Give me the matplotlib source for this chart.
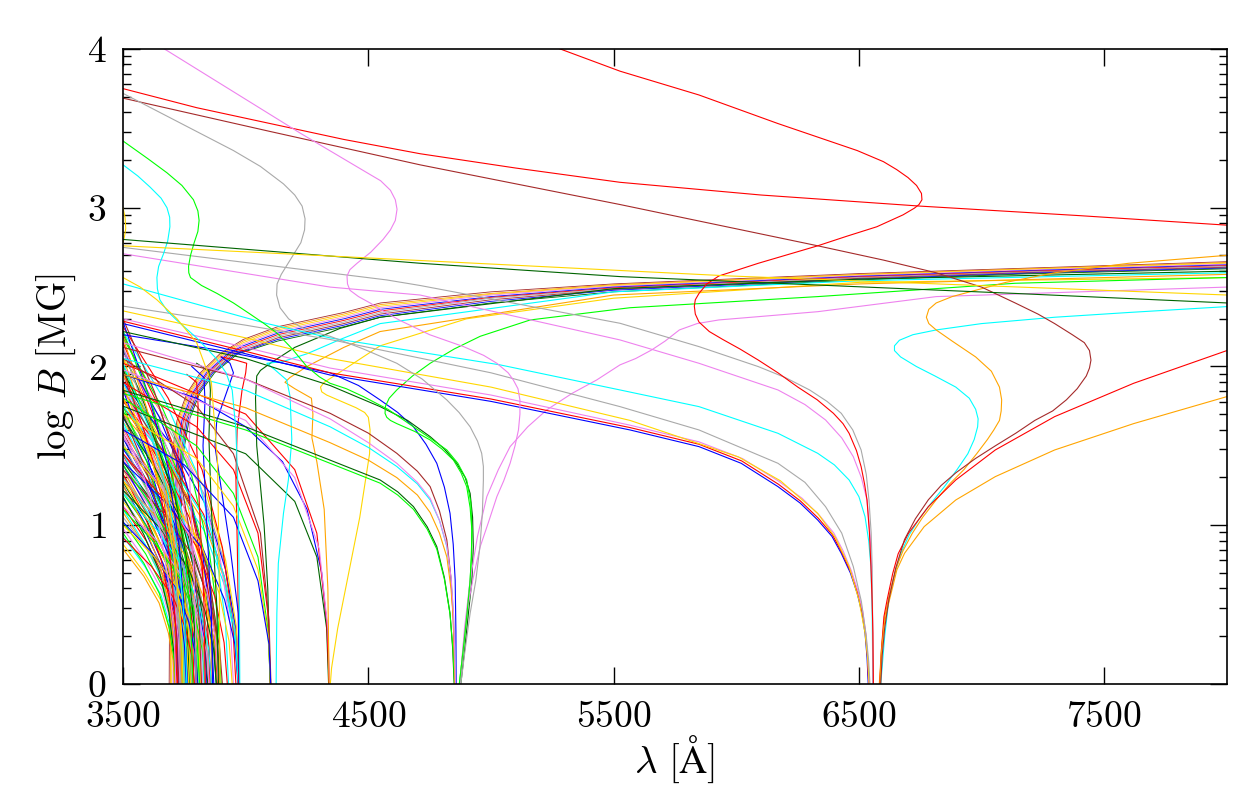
import matplotlib
matplotlib.use('Agg')
import matplotlib.pyplot as plt
from matplotlib.ticker import NullLocator
import numpy as np

plt.rcParams['font.family'] = 'serif'
plt.rcParams['font.serif'] = ['cmr10']
plt.rcParams['mathtext.fontset'] = 'cm'
plt.rcParams['axes.unicode_minus'] = False
plt.rcParams['axes.formatter.use_mathtext'] = True

# ---- data: wavelength [A] and log B [MG] ----

# long lines and S-shaped curves in the upper half
upper_colors = ['red', 'brown', 'red', 'violet', 'darkgray', 'lime', 'cyan',
                'gold', 'darkgreen', 'gold', 'gold']
upper_lam = [
    [3500, 3800, 4100, 4400, 4711, 5100, 5526, 6100, 6750, 7400, 8000],
    [3500, 4100, 4711, 5526, 6332, 6600, 6815, 7000, 7137, 7230, 7298, 7370,
     7419, 7440, 7446, 7440, 7427, 7390, 7346, 7290, 7217, 7140, 7056, 6975,
     6895, 6835, 6783, 6730, 6686, 6650, 6622, 6605, 6595, 6589],
    [5200, 5282, 5526, 5848, 6170, 6493, 6600, 6654, 6700, 6735, 6755, 6757,
     6745, 6726, 6680, 6573, 6450, 6332, 6200, 6090, 5990, 5929, 5880, 5848,
     5833, 5829, 5833, 5848, 5890, 5945, 6015, 6090, 6170, 6251, 6330, 6396,
     6435, 6460, 6490, 6509, 6523, 6533, 6543, 6549, 6554, 6557, 6559],
    [3600, 3679, 4222, 4495, 4550, 4590, 4610, 4617, 4610, 4590, 4560, 4510,
     4454, 4425, 4413, 4415, 4425, 4460, 4507, 4560, 4629, 4750, 4888, 4970,
     5024, 5070, 5091, 5110, 5118, 5118, 5112, 5098, 5078, 5052, 5024, 4990,
     4956, 4925, 4901, 4885, 4874],
    [3500, 3700, 3950, 4060, 4154, 4200, 4230, 4242, 4240, 4225, 4181, 4145,
     4128, 4126, 4140, 4175, 4222, 4280, 4344, 4480, 4616, 4720, 4820, 4870,
     4915, 4945, 4962, 4969, 4969, 4965, 4955, 4938, 4915, 4895, 4877],
    [3500, 3600, 3679, 3740, 3787, 3805, 3810, 3805, 3790, 3775, 3767, 3768,
     3775, 3820, 3883, 3950, 4018, 4075, 4128, 4190, 4249, 4300, 4344, 4410,
     4480, 4580, 4684, 4760, 4820, 4865, 4901, 4918, 4922, 4920, 4915, 4902,
     4888, 4871],
    [3500, 3560, 3610, 3655, 3679, 3690, 3691, 3682, 3665, 3645, 3638, 3640,
     3650, 3680, 3720, 3800, 3880, 3920, 3945, 3960, 3967, 3971, 3974, 3976],
    [3500, 3508, 3511, 3506, 3500],
    [3500, 4711, 5526, 7137, 8000],
    [3500, 4548, 5975, 8000],
    [3500, 3570, 3638, 3720, 3800, 3860, 3885, 3892, 3895],
]
upper_logb = [
    [3.75, 3.63, 3.53, 3.43, 3.34, 3.25, 3.16, 3.08, 3.01, 2.95, 2.89],
    [3.69, 3.48, 3.27, 3.02, 2.76, 2.67, 2.59, 2.50, 2.40, 2.33, 2.27, 2.20,
     2.15, 2.10, 2.04, 1.99, 1.94, 1.86, 1.79, 1.72, 1.66, 1.58, 1.50, 1.42,
     1.33, 1.25, 1.16, 1.04, 0.91, 0.73, 0.53, 0.35, 0.18, 0],
    [4.05, 4.0, 3.86, 3.71, 3.53, 3.36, 3.29, 3.24, 3.19, 3.14, 3.09, 3.05,
     3.02, 2.997, 2.955, 2.88, 2.82, 2.76, 2.70, 2.65, 2.60, 2.57, 2.52, 2.46,
     2.42, 2.38, 2.33, 2.28, 2.22, 2.17, 2.11, 2.04, 1.96, 1.87, 1.79, 1.705,
     1.64, 1.579, 1.47, 1.369, 1.26, 1.159, 0.95, 0.739, 0.52, 0.32, 0],
    [4.06, 3.99, 3.47, 3.22, 3.17, 3.11, 3.05, 2.99, 2.92, 2.86, 2.80, 2.72,
     2.65, 2.61, 2.57, 2.52, 2.48, 2.44, 2.40, 2.35, 2.29, 2.20, 2.125, 2.07,
     2.02, 1.96, 1.915, 1.86, 1.789, 1.70, 1.6, 1.50, 1.39, 1.28, 1.18, 1.02,
     0.865, 0.65, 0.445, 0.22, 0],
    [3.72, 3.56, 3.36, 3.26, 3.15, 3.08, 3.01, 2.93, 2.86, 2.78, 2.67, 2.58,
     2.52, 2.45, 2.37, 2.30, 2.25, 2.215, 2.19, 2.11, 2.02, 1.92, 1.789, 1.71,
     1.62, 1.53, 1.453, 1.37, 1.285, 1.08, 0.865, 0.65, 0.445, 0.22, 0],
    [3.42, 3.31, 3.22, 3.14, 3.05, 2.98, 2.92, 2.85, 2.78, 2.70, 2.63, 2.59,
     2.56, 2.51, 2.46, 2.40, 2.33, 2.27, 2.21, 2.11, 2.0, 1.935, 1.894, 1.86,
     1.81, 1.73, 1.62, 1.54, 1.474, 1.39, 1.285, 1.14, 0.97, 0.80, 0.655, 0.44,
     0.235, 0],
    [3.27, 3.20, 3.13, 3.06, 3.0, 2.94, 2.88, 2.79, 2.71, 2.63, 2.56, 2.49,
     2.42, 2.35, 2.29, 2.18, 2.05, 1.96, 1.85, 1.6, 1.3, 1.0, 0.5, 0],
    [3.0, 2.94, 2.87, 2.82, 2.78],
    [2.80, 2.65, 2.566, 2.46, 2.40],
    [2.76, 2.68, 2.57, 2.45],
    [2.56, 2.50, 2.42, 2.30, 2.15, 1.9, 1.4, 0.7, 0],
]

# curves meeting the axis near H-alpha
halpha_colors = ['blue', 'red', 'violet', 'gold', 'darkgray', 'cyan', 'violet',
                 'darkgray', 'cyan', 'orange', 'red', 'orange']
halpha_lam = [
    [3500, 4000, 4344, 5000, 5567, 5848, 6020, 6170, 6260, 6332, 6390, 6428,
     6465, 6493, 6512, 6525, 6533, 6538],
    [3500, 4000, 4344, 5000, 5567, 5848, 6022, 6172, 6262, 6334, 6392, 6430,
     6467, 6495, 6514, 6527, 6535, 6540],
    [3500, 4000, 4344, 5000, 5567, 5848, 6025, 6175, 6268, 6340, 6398, 6435,
     6470, 6497, 6516, 6528, 6536, 6541],
    [3500, 4000, 4344, 5000, 5567, 6009, 6180, 6332, 6405, 6460, 6500, 6525,
     6536, 6542],
    [3500, 4000, 4344, 5000, 5526, 5848, 6170, 6280, 6364, 6430, 6477, 6510,
     6530, 6540, 6545],
    [3500, 4087, 4344, 5037, 5526, 5848, 6170, 6332, 6400, 6460, 6500, 6525,
     6540, 6549, 6554, 6557],
    [3500, 4344, 4711, 5526, 5848, 6170, 6280, 6364, 6430, 6477, 6510, 6533,
     6545, 6552, 6556, 6557],
    [3500, 4575, 4711, 5526, 5848, 6090, 6200, 6299, 6370, 6428, 6475, 6509,
     6530, 6541, 6550, 6554, 6558],
    [8000, 7600, 7298, 7000, 6815, 6720, 6665, 6645, 6645, 6670, 6734, 6810,
     6895, 6950, 6976, 6986, 6984, 6970, 6944, 6900, 6847, 6800, 6750, 6705,
     6670, 6640, 6622, 6605, 6589],
    [8000, 7600, 7298, 7100, 6976, 6880, 6815, 6785, 6775, 6785, 6815, 6880,
     6976, 7040, 7073, 7082, 7080, 7073, 7050, 7024, 6980, 6928, 6870, 6815,
     6760, 6718, 6680, 6654, 6625, 6605, 6592, 6583],
    [8000, 7620, 7298, 7056, 6895, 6783, 6702, 6660, 6638, 6615, 6602, 6592, 6585],
    [8000, 7620, 7298, 7056, 6895, 6766, 6686, 6655, 6638, 6615, 6602, 6592, 6586],
]
halpha_logb = [
    [2.27, 2.08, 1.946, 1.78, 1.60, 1.495, 1.39, 1.243, 1.14, 1.033, 0.93,
     0.823, 0.70, 0.571, 0.45, 0.319, 0.17, 0],
    [2.285, 2.095, 1.96, 1.795, 1.615, 1.51, 1.405, 1.258, 1.152, 1.045, 0.94,
     0.83, 0.705, 0.575, 0.452, 0.32, 0.17, 0],
    [2.30, 2.12, 1.99, 1.82, 1.63, 1.525, 1.42, 1.275, 1.17, 1.06, 0.95, 0.84,
     0.71, 0.58, 0.455, 0.32, 0.17, 0],
    [2.35, 2.18, 2.05, 1.87, 1.66, 1.43, 1.28, 1.075, 0.92, 0.74, 0.53, 0.32,
     0.16, 0],
    [2.38, 2.26, 2.17, 1.96, 1.747, 1.60, 1.39, 1.27, 1.117, 0.95, 0.74, 0.52,
     0.3, 0.14, 0],
    [2.52, 2.27, 2.18, 2.01, 1.852, 1.747, 1.579, 1.453, 1.38, 1.285, 1.18,
     1.054, 0.90, 0.739, 0.45, 0],
    [2.71, 2.50, 2.45, 2.167, 2.02, 1.852, 1.76, 1.663, 1.55, 1.432, 1.30,
     1.159, 0.95, 0.739, 0.40, 0],
    [2.75, 2.545, 2.51, 2.272, 2.125, 1.999, 1.93, 1.852, 1.78, 1.705, 1.60,
     1.474, 1.32, 1.159, 0.95, 0.74, 0],
    [2.377, 2.34, 2.31, 2.27, 2.23, 2.20, 2.165, 2.13, 2.10, 2.06, 2.00, 1.94,
     1.87, 1.80, 1.73, 1.67, 1.62, 1.54, 1.45, 1.35, 1.24, 1.15, 1.05, 0.94,
     0.82, 0.66, 0.53, 0.30, 0],
    [2.70, 2.65, 2.59, 2.53, 2.48, 2.44, 2.40, 2.36, 2.31, 2.27, 2.23, 2.16,
     2.06, 1.97, 1.87, 1.79, 1.72, 1.66, 1.60, 1.54, 1.45, 1.35, 1.26, 1.16,
     1.05, 0.95, 0.84, 0.74, 0.57, 0.42, 0.22, 0],
    [2.10, 1.894, 1.684, 1.474, 1.285, 1.117, 0.949, 0.82, 0.697, 0.53, 0.424,
     0.22, 0],
    [1.81, 1.64, 1.474, 1.306, 1.159, 0.991, 0.823, 0.72, 0.613, 0.47, 0.361,
     0.2, 0],
]

# curves meeting the axis near H-beta
hbeta_colors = ['blue', 'cyan', 'brown', 'darkgreen', 'lime', 'orange', 'violet',
                'darkgreen', 'lime', 'violet']
hbeta_lam = [
    [3500, 3900, 4344, 4460, 4548, 4620, 4684, 4735, 4779, 4810, 4833, 4846,
     4854, 4857, 4858],
    [3500, 4000, 4344, 4500, 4616, 4700, 4752, 4790, 4820, 4837, 4847, 4852, 4854],
    [3500, 4000, 4344, 4500, 4616, 4700, 4752, 4790, 4820, 4836, 4845, 4850, 4852],
    [3500, 4000, 4344, 4548, 4620, 4684, 4740, 4779, 4810, 4833, 4844, 4850],
    [3500, 4000, 4344, 4548, 4620, 4684, 4740, 4779, 4810, 4833, 4845, 4851],
    [3500, 4000, 4344, 4500, 4616, 4700, 4752, 4790, 4820, 4837, 4847, 4853],
    [3500, 4000, 4344, 4500, 4616, 4700, 4752, 4790, 4820, 4838, 4847, 4852, 4855],
    [3500, 4000, 4344, 4548, 4660, 4752, 4810, 4860, 4895, 4915, 4925, 4928,
     4922, 4908, 4893, 4877],
    [8000, 7137, 6332, 5567, 5160, 4956, 4850, 4752, 4680, 4616, 4585, 4570,
     4568, 4575, 4590, 4616, 4690, 4752, 4800, 4847, 4878, 4901, 4915, 4922,
     4920, 4915, 4902, 4888, 4871],
    [8000, 7400, 6815, 6332, 6100, 5929, 5840, 5768, 5710, 5655, 5590, 5526,
     5431, 5330, 5227, 5150, 5078, 5030, 4983, 4945, 4915, 4892, 4874],
]
hbeta_logb = [
    [2.20, 2.10, 1.96, 1.88, 1.789, 1.71, 1.62, 1.51, 1.39, 1.24, 1.075, 0.88,
     0.655, 0.33, 0],
    [2.05, 1.85, 1.62, 1.49, 1.37, 1.26, 1.159, 1.03, 0.865, 0.66, 0.445, 0.22, 0],
    [2.12, 1.92, 1.705, 1.58, 1.453, 1.34, 1.243, 1.09, 0.907, 0.68, 0.445, 0.22, 0],
    [1.85, 1.62, 1.41, 1.285, 1.21, 1.117, 0.99, 0.865, 0.67, 0.445, 0.22, 0],
    [1.83, 1.60, 1.39, 1.265, 1.19, 1.10, 0.975, 0.85, 0.66, 0.44, 0.22, 0],
    [1.95, 1.74, 1.52, 1.41, 1.30, 1.19, 1.08, 0.95, 0.80, 0.60, 0.40, 0],
    [2.15, 1.92, 1.67, 1.52, 1.39, 1.27, 1.17, 1.03, 0.87, 0.66, 0.45, 0.22, 0],
    [2.22, 2.05, 1.88, 1.747, 1.66, 1.558, 1.48, 1.39, 1.30, 1.2, 1.05, 0.865,
     0.65, 0.445, 0.22, 0],
    [2.56, 2.524, 2.44, 2.37, 2.293, 2.19, 2.11, 2.02, 1.94, 1.852, 1.80, 1.75,
     1.705, 1.68, 1.66, 1.64, 1.59, 1.537, 1.48, 1.41, 1.33, 1.243, 1.11, 0.97,
     0.80, 0.655, 0.44, 0.235, 0],
    [2.50, 2.47, 2.44, 2.345, 2.315, 2.293, 2.27, 2.23, 2.16, 2.104, 2.05, 2.01,
     1.915, 1.83, 1.726, 1.62, 1.495, 1.35, 1.18, 0.93, 0.655, 0.35, 0],
]

# curves meeting the axis near H-gamma and H-delta
hgd_colors = ['blue', 'darkgreen', 'red', 'violet', 'gold', 'orange',
              'darkgreen', 'cyan', 'red', 'lime', 'gold', 'brown', 'blue']
hgd_lam = [
    [3500, 3800, 4000, 4150, 4250, 4310, 4335, 4340],
    [3500, 4000, 4200, 4290, 4330, 4338],
    [3500, 4000, 4200, 4290, 4330, 4340],
    [3500, 4000, 4200, 4300, 4335, 4342],
    [8000, 6505, 5500, 4900, 4548, 4400, 4320, 4305, 4310, 4330, 4390, 4450,
     4485, 4500, 4507, 4505, 4490, 4465, 4420, 4375, 4350, 4345],
    [8000, 6505, 5500, 4548, 4400, 4250, 4180, 4160, 4200, 4268, 4274, 4270,
     4290, 4320, 4335, 4340],
    [8000, 6505, 5500, 4548, 4385, 4200, 4100, 4060, 4045, 4040, 4045, 4060,
     4075, 4090, 4095, 4100],
    [8000, 6505, 5500, 4548, 4385, 4250, 4150, 4086, 4120, 4167, 4181, 4188,
     4174, 4154, 4133, 4127, 4124],
    [3500, 3800, 3950, 4050, 4090, 4100],
    [3500, 3800, 3950, 4050, 4090, 4101],
    [3500, 3800, 3950, 4050, 4092, 4102],
    [3500, 3800, 3950, 4060, 4095, 4103],
    [3500, 3750, 3950, 4050, 4095, 4102],
]
hgd_logb = [
    [1.95, 1.80, 1.62, 1.40, 1.10, 0.70, 0.30, 0],
    [1.75, 1.45, 1.15, 0.80, 0.35, 0],
    [2.02, 1.70, 1.35, 0.95, 0.40, 0],
    [1.98, 1.66, 1.30, 0.85, 0.35, 0],
    [2.56, 2.53, 2.43, 2.30, 2.13, 1.98, 1.90, 1.87, 1.84, 1.82, 1.78, 1.74,
     1.71, 1.68, 1.60, 1.45, 1.30, 1.05, 0.7, 0.35, 0.1, 0],
    [2.58, 2.52, 2.45, 2.22, 2.12, 2.00, 1.93, 1.90, 1.86, 1.80, 1.70, 1.55,
     1.40, 1.10, 0.60, 0],
    [2.60, 2.55, 2.49, 2.31, 2.24, 2.12, 2.02, 1.975, 1.94, 1.80, 1.5, 1.25,
     1.0, 0.6, 0.3, 0],
    [2.59, 2.54, 2.47, 2.27, 2.17, 2.08, 2.03, 2.02, 1.978, 1.915, 1.81, 1.54,
     1.285, 1.075, 0.76, 0.445, 0],
    [1.9, 1.62, 1.35, 0.95, 0.45, 0],
    [1.8, 1.5, 1.2, 0.8, 0.35, 0],
    [1.7, 1.42, 1.12, 0.72, 0.3, 0],
    [2.05, 1.75, 1.45, 0.95, 0.4, 0],
    [1.6, 1.38, 1.05, 0.65, 0.25, 0],
]

# kinked curves leaving the bundle
kink_colors = ['red', 'blue', 'darkgreen', 'red', 'violet', 'blue']
kink_lam = [
    [3900, 3960, 4004, 4000, 3985, 3965, 3960, 3966, 3970, 3971],
    [3900, 3936, 3950, 3916, 3882, 3875, 3895, 3936, 3970, 3974],
    [3800, 3850, 3856, 3850, 3860, 3882, 3889],
    [3760, 3800, 3806, 3800, 3812, 3830, 3835],
    [3740, 3770, 3772, 3768, 3780, 3795, 3798],
    [3780, 3830, 3834, 3826, 3840, 3860, 3865],
]
kink_logb = [
    [2.06, 2.04, 2.02, 1.96, 1.85, 1.6, 1.3, 0.85, 0.4, 0],
    [2.06, 2.02, 1.96, 1.81, 1.66, 1.495, 1.285, 0.865, 0.445, 0],
    [2.02, 1.97, 1.85, 1.55, 1.1, 0.5, 0],
    [1.95, 1.90, 1.75, 1.5, 1.1, 0.5, 0],
    [1.85, 1.80, 1.65, 1.4, 1.0, 0.45, 0],
    [2.0, 1.93, 1.78, 1.5, 1.05, 0.45, 0],
]

# dense tangle of higher series members near the Balmer limit
tangle_colors = ['gold', 'cyan', 'violet', 'lime', 'orange', 'red', 'blue',
                 'darkgray', 'darkgreen', 'brown', 'gold', 'red', 'lime', 'cyan',
                 'blue', 'orange', 'violet', 'darkgreen', 'red', 'darkgray',
                 'brown', 'blue', 'gold', 'lime', 'cyan', 'red', 'darkgreen',
                 'orange', 'violet', 'blue', 'brown', 'gold', 'red', 'lime',
                 'darkgreen', 'darkgray', 'red', 'orange', 'blue', 'cyan',
                 'brown', 'violet', 'lime', 'darkgray', 'gold',
                 'blue', 'red', 'lime', 'orange', 'cyan', 'violet', 'darkgreen',
                 'gold', 'brown', 'darkgray', 'red', 'blue', 'lime', 'orange',
                 'violet', 'cyan', 'darkgreen', 'red', 'gold', 'blue', 'brown',
                 'lime', 'darkgray', 'orange', 'red', 'violet', 'cyan', 'blue',
                 'gold', 'darkgreen', 'lime', 'orange', 'red', 'violet', 'cyan',
                 'red', 'blue', 'lime', 'gold', 'cyan', 'violet', 'orange',
                 'darkgreen', 'brown', 'red', 'blue', 'gold', 'darkgray', 'lime',
                 'violet', 'cyan', 'red', 'orange', 'blue', 'lime', 'brown',
                 'darkgray', 'violet', 'gold', 'darkgreen', 'cyan']
tangle_lam = [
    [3500, 3587, 3653, 3692, 3711, 3718],
    [3500, 3589, 3655, 3695, 3715, 3722],
    [3500, 3590, 3658, 3699, 3719, 3726],
    [3500, 3592, 3661, 3702, 3723, 3730],
    [3500, 3594, 3664, 3706, 3727, 3734],
    [3500, 3595, 3667, 3709, 3731, 3738],
    [3500, 3597, 3669, 3713, 3735, 3742],
    [3500, 3598, 3672, 3716, 3739, 3746],
    [3500, 3600, 3675, 3720, 3743, 3750],
    [3500, 3602, 3679, 3724, 3747, 3755],
    [3500, 3604, 3682, 3729, 3752, 3760],
    [3500, 3606, 3686, 3733, 3757, 3765],
    [3500, 3608, 3690, 3738, 3763, 3771],
    [3500, 3590, 3658, 3698, 3718, 3725],
    [3500, 3594, 3665, 3707, 3728, 3735],
    [3500, 3598, 3672, 3716, 3738, 3745],
    [3500, 3601, 3676, 3722, 3744, 3752],
    [3500, 3611, 3695, 3745, 3770, 3778],
    [3500, 3614, 3700, 3751, 3776, 3785],
    [3500, 3604, 3682, 3729, 3752, 3760],
    [3500, 3619, 3709, 3762, 3789, 3798],
    [3500, 3619, 3709, 3762, 3789, 3798],
    [3500, 3616, 3703, 3755, 3781, 3790],
    [3500, 3625, 3718, 3775, 3803, 3812],
    [3500, 3620, 3710, 3764, 3791, 3800],
    [3500, 3634, 3735, 3795, 3825, 3835],
    [3500, 3634, 3735, 3795, 3825, 3835],
    [3500, 3634, 3735, 3795, 3825, 3835],
    [3500, 3636, 3738, 3799, 3830, 3840],
    [3500, 3637, 3739, 3801, 3832, 3842],
    [3500, 3656, 3772, 3842, 3877, 3889],
    [3500, 3656, 3772, 3842, 3877, 3889],
    [3500, 3654, 3770, 3839, 3873, 3885],
    [3500, 3657, 3774, 3845, 3880, 3892],
    [3500, 3652, 3766, 3834, 3869, 3880],
    [3500, 3688, 3829, 3914, 3956, 3970],
    [3500, 3687, 3828, 3912, 3954, 3968],
    [3500, 3689, 3830, 3915, 3958, 3972],
    [3500, 3690, 3833, 3918, 3961, 3975],
    [3500, 3688, 3829, 3914, 3956, 3970],
    [3500, 3644, 3752, 3817, 3849, 3860],
    [3500, 3628, 3724, 3782, 3810, 3820],
    [3500, 3612, 3696, 3746, 3772, 3780],
    [3500, 3640, 3745, 3808, 3840, 3850],
    [3500, 3690, 3833, 3918, 3961, 3975],
    [3500, 3590, 3658, 3698, 3718, 3725],
    [3500, 3594, 3665, 3707, 3728, 3735],
    [3500, 3597, 3669, 3713, 3735, 3742],
    [3500, 3600, 3675, 3720, 3743, 3750],
    [3500, 3602, 3679, 3724, 3747, 3755],
    [3500, 3605, 3683, 3731, 3754, 3762],
    [3500, 3608, 3689, 3738, 3762, 3770],
    [3500, 3610, 3693, 3742, 3767, 3775],
    [3500, 3591, 3660, 3701, 3721, 3728],
    [3500, 3612, 3696, 3746, 3772, 3780],
    [3500, 3616, 3703, 3755, 3781, 3790],
    [3500, 3606, 3686, 3733, 3757, 3765],
    [3500, 3622, 3714, 3768, 3796, 3805],
    [3500, 3626, 3721, 3777, 3806, 3815],
    [3500, 3630, 3728, 3786, 3815, 3825],
    [3500, 3632, 3731, 3790, 3820, 3830],
    [3500, 3638, 3742, 3804, 3835, 3845],
    [3500, 3642, 3749, 3812, 3844, 3855],
    [3500, 3646, 3756, 3821, 3854, 3865],
    [3500, 3648, 3759, 3826, 3859, 3870],
    [3500, 3658, 3777, 3848, 3883, 3895],
    [3500, 3660, 3780, 3852, 3888, 3900],
    [3500, 3596, 3668, 3711, 3733, 3740],
    [3500, 3586, 3651, 3689, 3709, 3715],
    [3500, 3588, 3654, 3694, 3713, 3720],
    [3500, 3593, 3662, 3704, 3725, 3732],
    [3500, 3599, 3674, 3718, 3741, 3748],
    [3500, 3603, 3681, 3727, 3750, 3758],
    [3500, 3607, 3688, 3736, 3760, 3768],
    [3500, 3585, 3648, 3687, 3706, 3712],
    [3500, 3585, 3648, 3687, 3706, 3712],
    [3500, 3584, 3647, 3685, 3704, 3710],
    [3500, 3684, 3822, 3905, 3946, 3960],
    [3500, 3680, 3815, 3896, 3937, 3950],
    [3500, 3672, 3801, 3878, 3917, 3930],
    [3500, 3616, 3703, 3755, 3781, 3790],
    [3500, 3622, 3714, 3768, 3796, 3805],
    [3500, 3634, 3735, 3795, 3825, 3835],
    [3500, 3628, 3724, 3782, 3810, 3820],
    [3500, 3644, 3752, 3817, 3849, 3860],
    [3500, 3640, 3745, 3808, 3840, 3850],
    [3500, 3656, 3772, 3842, 3877, 3889],
    [3500, 3652, 3766, 3834, 3869, 3880],
    [3500, 3662, 3784, 3856, 3893, 3905],
    [3500, 3670, 3798, 3874, 3912, 3925],
    [3500, 3688, 3829, 3914, 3956, 3970],
    [3500, 3678, 3812, 3892, 3932, 3945],
    [3500, 3634, 3735, 3795, 3825, 3835],
    [3500, 3625, 3718, 3775, 3803, 3812],
    [3500, 3656, 3772, 3842, 3877, 3889],
    [3500, 3688, 3829, 3914, 3956, 3970],
    [3500, 3589, 3655, 3695, 3715, 3722],
    [3500, 3596, 3668, 3711, 3733, 3740],
    [3500, 3604, 3682, 3729, 3752, 3760],
    [3500, 3614, 3700, 3751, 3776, 3785],
    [3500, 3628, 3724, 3782, 3810, 3820],
    [3500, 3594, 3665, 3707, 3728, 3735],
    [3500, 3586, 3651, 3689, 3709, 3715],
    [3500, 3598, 3672, 3716, 3738, 3745],
    [3500, 3620, 3710, 3764, 3791, 3800],
    [3500, 3604, 3682, 3729, 3752, 3760],
]
tangle_logb = [
    [0.88, 0.70, 0.53, 0.33, 0.16, 0],
    [0.93, 0.74, 0.56, 0.35, 0.17, 0],
    [0.98, 0.78, 0.59, 0.37, 0.18, 0],
    [1.02, 0.82, 0.61, 0.39, 0.18, 0],
    [1.08, 0.86, 0.65, 0.41, 0.19, 0],
    [1.12, 0.90, 0.67, 0.43, 0.20, 0],
    [1.17, 0.94, 0.70, 0.44, 0.21, 0],
    [1.22, 0.98, 0.73, 0.46, 0.22, 0],
    [1.27, 1.02, 0.76, 0.48, 0.23, 0],
    [1.32, 1.06, 0.79, 0.50, 0.24, 0],
    [1.38, 1.10, 0.83, 0.52, 0.25, 0],
    [1.44, 1.15, 0.86, 0.55, 0.26, 0],
    [1.50, 1.20, 0.90, 0.57, 0.27, 0],
    [1.10, 0.88, 0.66, 0.42, 0.20, 0],
    [1.25, 1.00, 0.75, 0.48, 0.23, 0],
    [1.35, 1.08, 0.81, 0.51, 0.24, 0],
    [1.42, 1.14, 0.85, 0.54, 0.26, 0],
    [1.55, 1.24, 0.93, 0.59, 0.28, 0],
    [1.62, 1.30, 0.97, 0.62, 0.29, 0],
    [1.05, 0.84, 0.63, 0.40, 0.19, 0],
    [1.58, 1.26, 0.95, 0.60, 0.28, 0],
    [1.68, 1.34, 1.01, 0.64, 0.30, 0],
    [1.15, 0.92, 0.69, 0.44, 0.21, 0],
    [1.72, 1.38, 1.03, 0.65, 0.31, 0],
    [1.30, 1.04, 0.78, 0.49, 0.23, 0],
    [1.80, 1.44, 1.08, 0.68, 0.32, 0],
    [1.40, 1.12, 0.84, 0.53, 0.25, 0],
    [1.60, 1.28, 0.96, 0.61, 0.29, 0],
    [1.85, 1.48, 1.11, 0.70, 0.33, 0],
    [1.48, 1.18, 0.89, 0.56, 0.27, 0],
    [1.90, 1.52, 1.14, 0.72, 0.34, 0],
    [1.65, 1.32, 0.99, 0.63, 0.30, 0],
    [1.75, 1.40, 1.05, 0.67, 0.32, 0],
    [1.95, 1.56, 1.17, 0.74, 0.35, 0],
    [1.55, 1.24, 0.93, 0.59, 0.28, 0],
    [2.00, 1.60, 1.20, 0.76, 0.36, 0],
    [1.78, 1.42, 1.07, 0.68, 0.32, 0],
    [1.70, 1.36, 1.02, 0.65, 0.31, 0],
    [1.90, 1.52, 1.14, 0.72, 0.34, 0],
    [1.62, 1.30, 0.97, 0.62, 0.29, 0],
    [1.45, 1.16, 0.87, 0.55, 0.26, 0],
    [1.35, 1.08, 0.81, 0.51, 0.24, 0],
    [1.20, 0.96, 0.72, 0.46, 0.22, 0],
    [1.70, 1.36, 1.02, 0.65, 0.31, 0],
    [2.05, 1.64, 1.23, 0.78, 0.37, 0],
    [1.85, 1.48, 1.11, 0.70, 0.33, 0],
    [1.95, 1.56, 1.17, 0.74, 0.35, 0],
    [1.75, 1.40, 1.05, 0.67, 0.32, 0],
    [2.05, 1.64, 1.23, 0.78, 0.37, 0],
    [1.65, 1.32, 0.99, 0.63, 0.30, 0],
    [1.90, 1.52, 1.14, 0.72, 0.34, 0],
    [2.10, 1.68, 1.26, 0.80, 0.38, 0],
    [1.80, 1.44, 1.08, 0.68, 0.32, 0],
    [1.70, 1.36, 1.02, 0.65, 0.31, 0],
    [1.95, 1.56, 1.17, 0.74, 0.35, 0],
    [2.15, 1.72, 1.29, 0.82, 0.39, 0],
    [1.55, 1.24, 0.93, 0.59, 0.28, 0],
    [2.00, 1.60, 1.20, 0.76, 0.36, 0],
    [1.80, 1.44, 1.08, 0.68, 0.32, 0],
    [2.12, 1.70, 1.27, 0.81, 0.38, 0],
    [1.90, 1.52, 1.14, 0.72, 0.34, 0],
    [1.68, 1.34, 1.01, 0.64, 0.30, 0],
    [2.20, 1.76, 1.32, 0.84, 0.40, 0],
    [1.95, 1.56, 1.17, 0.74, 0.35, 0],
    [2.10, 1.68, 1.26, 0.80, 0.38, 0],
    [1.85, 1.48, 1.11, 0.70, 0.33, 0],
    [2.18, 1.74, 1.31, 0.83, 0.39, 0],
    [1.52, 1.22, 0.91, 0.58, 0.27, 0],
    [1.25, 1.00, 0.75, 0.48, 0.23, 0],
    [1.32, 1.06, 0.79, 0.50, 0.24, 0],
    [1.58, 1.26, 0.95, 0.60, 0.28, 0],
    [1.45, 1.16, 0.87, 0.55, 0.26, 0],
    [1.38, 1.10, 0.83, 0.52, 0.25, 0],
    [1.28, 1.02, 0.77, 0.49, 0.23, 0],
    [1.18, 0.94, 0.71, 0.45, 0.21, 0],
    [0.95, 0.76, 0.57, 0.36, 0.17, 0],
    [0.85, 0.68, 0.51, 0.32, 0.15, 0],
    [2.25, 1.80, 1.35, 0.86, 0.41, 0],
    [2.08, 1.66, 1.25, 0.79, 0.37, 0],
    [2.22, 1.78, 1.33, 0.84, 0.40, 0],
    [0.92, 0.74, 0.55, 0.35, 0.17, 0],
    [1.02, 0.82, 0.61, 0.39, 0.18, 0],
    [1.10, 0.88, 0.66, 0.42, 0.20, 0],
    [1.00, 0.80, 0.60, 0.38, 0.18, 0],
    [1.20, 0.96, 0.72, 0.46, 0.22, 0],
    [1.12, 0.90, 0.67, 0.43, 0.20, 0],
    [1.28, 1.02, 0.77, 0.49, 0.23, 0],
    [1.22, 0.98, 0.73, 0.46, 0.22, 0],
    [1.35, 1.08, 0.81, 0.51, 0.24, 0],
    [1.45, 1.16, 0.87, 0.55, 0.26, 0],
    [1.40, 1.12, 0.84, 0.53, 0.25, 0],
    [1.50, 1.20, 0.90, 0.57, 0.27, 0],
    [1.30, 1.04, 0.78, 0.49, 0.23, 0],
    [1.38, 1.10, 0.83, 0.52, 0.25, 0],
    [1.55, 1.24, 0.93, 0.59, 0.28, 0],
    [1.75, 1.40, 1.05, 0.67, 0.32, 0],
    [1.98, 1.58, 1.19, 0.75, 0.36, 0],
    [2.18, 1.74, 1.31, 0.83, 0.39, 0],
    [2.28, 1.82, 1.37, 0.87, 0.41, 0],
    [2.22, 1.78, 1.33, 0.84, 0.40, 0],
    [2.30, 1.84, 1.38, 0.87, 0.41, 0],
    [2.12, 1.70, 1.27, 0.81, 0.38, 0],
    [1.62, 1.30, 0.97, 0.62, 0.29, 0],
    [1.88, 1.50, 1.13, 0.71, 0.34, 0],
    [1.98, 1.58, 1.19, 0.75, 0.36, 0],
    [2.02, 1.62, 1.21, 0.77, 0.36, 0],
]

# the curved bundle: steep rise near 3700 A, then nearly flat to 8000 A
bundle_colors = ['brown', 'orange', 'gold', 'violet', 'blue', 'red', 'darkgray',
                 'brown', 'blue', 'darkgreen']
bundle_rise_logb = [0, 0.6, 1.2, 1.45, 1.66, 1.83, 1.96, 2.08]
bundle_rise_lam = [
    [3688, 3690, 3694, 3700, 3720, 3760, 3815, 3895],
    [3693, 3695, 3699, 3705, 3725, 3765, 3821, 3903],
    [3698, 3700, 3704, 3710, 3730, 3771, 3827, 3911],
    [3703, 3705, 3709, 3715, 3735, 3776, 3833, 3919],
    [3708, 3710, 3714, 3720, 3740, 3782, 3840, 3927],
    [3713, 3715, 3719, 3725, 3746, 3788, 3846, 3935],
    [3718, 3720, 3724, 3730, 3751, 3794, 3853, 3943],
    [3723, 3725, 3729, 3735, 3757, 3800, 3860, 3951],
    [3728, 3730, 3734, 3740, 3763, 3806, 3866, 3960],
    [3733, 3735, 3739, 3745, 3769, 3812, 3873, 3968],
]
bundle_flat_lam = [3990, 4130, 4400, 4550, 5000, 5500, 6500, 7200, 8000]
bundle_flat_logb = [
    [2.17, 2.25, 2.34, 2.40, 2.47, 2.52, 2.585, 2.62, 2.66],
    [2.16, 2.24, 2.33, 2.39, 2.46, 2.515, 2.58, 2.616, 2.655],
    [2.15, 2.23, 2.32, 2.38, 2.455, 2.51, 2.576, 2.612, 2.65],
    [2.14, 2.22, 2.31, 2.37, 2.45, 2.505, 2.572, 2.608, 2.645],
    [2.13, 2.21, 2.30, 2.36, 2.44, 2.50, 2.568, 2.604, 2.64],
    [2.12, 2.20, 2.29, 2.35, 2.435, 2.495, 2.564, 2.60, 2.635],
    [2.11, 2.19, 2.28, 2.34, 2.43, 2.49, 2.56, 2.596, 2.63],
    [2.10, 2.18, 2.27, 2.33, 2.42, 2.485, 2.555, 2.592, 2.625],
    [2.095, 2.17, 2.26, 2.32, 2.41, 2.48, 2.55, 2.588, 2.62],
    [2.09, 2.16, 2.25, 2.31, 2.40, 2.47, 2.545, 2.584, 2.615],
]

x_ticks = [3500, 4500, 5500, 6500, 7500]
y_ticks = [0, 1, 2, 3, 4]

# ---- plot ----
fig = plt.figure(figsize=(12.43, 7.92), dpi=100)
ax = fig.add_axes([0.099, 0.1364, 0.888, 0.8018])

lw = 0.8
for c, rl, fb in zip(bundle_colors, bundle_rise_lam, bundle_flat_logb):
    ax.plot(rl + bundle_flat_lam, bundle_rise_logb + fb, color=c, lw=0.6)
for c, lam, b in zip(tangle_colors, tangle_lam, tangle_logb):
    ax.plot(lam, b, color=c, lw=lw)
for c, lam, b in zip(kink_colors, kink_lam, kink_logb):
    ax.plot(lam, b, color=c, lw=lw)
for c, lam, b in zip(hgd_colors, hgd_lam, hgd_logb):
    ax.plot(lam, b, color=c, lw=lw)
for c, lam, b in zip(hbeta_colors, hbeta_lam, hbeta_logb):
    ax.plot(lam, b, color=c, lw=lw)
for c, lam, b in zip(halpha_colors, halpha_lam, halpha_logb):
    ax.plot(lam, b, color=c, lw=lw)
for c, lam, b in zip(upper_colors, upper_lam, upper_logb):
    ax.plot(lam, b, color=c, lw=lw)

ax.set_xlim(3500, 8000)
ax.set_ylim(0, 4)
ax.set_xticks(x_ticks)
ax.set_yticks(y_ticks)
ax.set_yticks([n + np.log10(k) for n in range(4) for k in range(2, 10)], minor=True)
ax.xaxis.set_minor_locator(NullLocator())
ax.tick_params(which='both', direction='in', top=True, right=True, labelsize=27)
ax.tick_params(which='major', length=12, width=1)
ax.tick_params(which='minor', length=6, width=1)
ax.tick_params(axis='x', pad=12)
ax.tick_params(axis='y', pad=12)
for s in ax.spines.values():
    s.set_linewidth(1.2)

ax.set_xlabel(r'$\lambda\ [\mathrm{\AA}]$', fontsize=28, labelpad=0)
ax.set_ylabel(r'$\log\,B\ [\mathrm{MG}]$', fontsize=28, labelpad=6)

fig.savefig('out.png', dpi=100)
